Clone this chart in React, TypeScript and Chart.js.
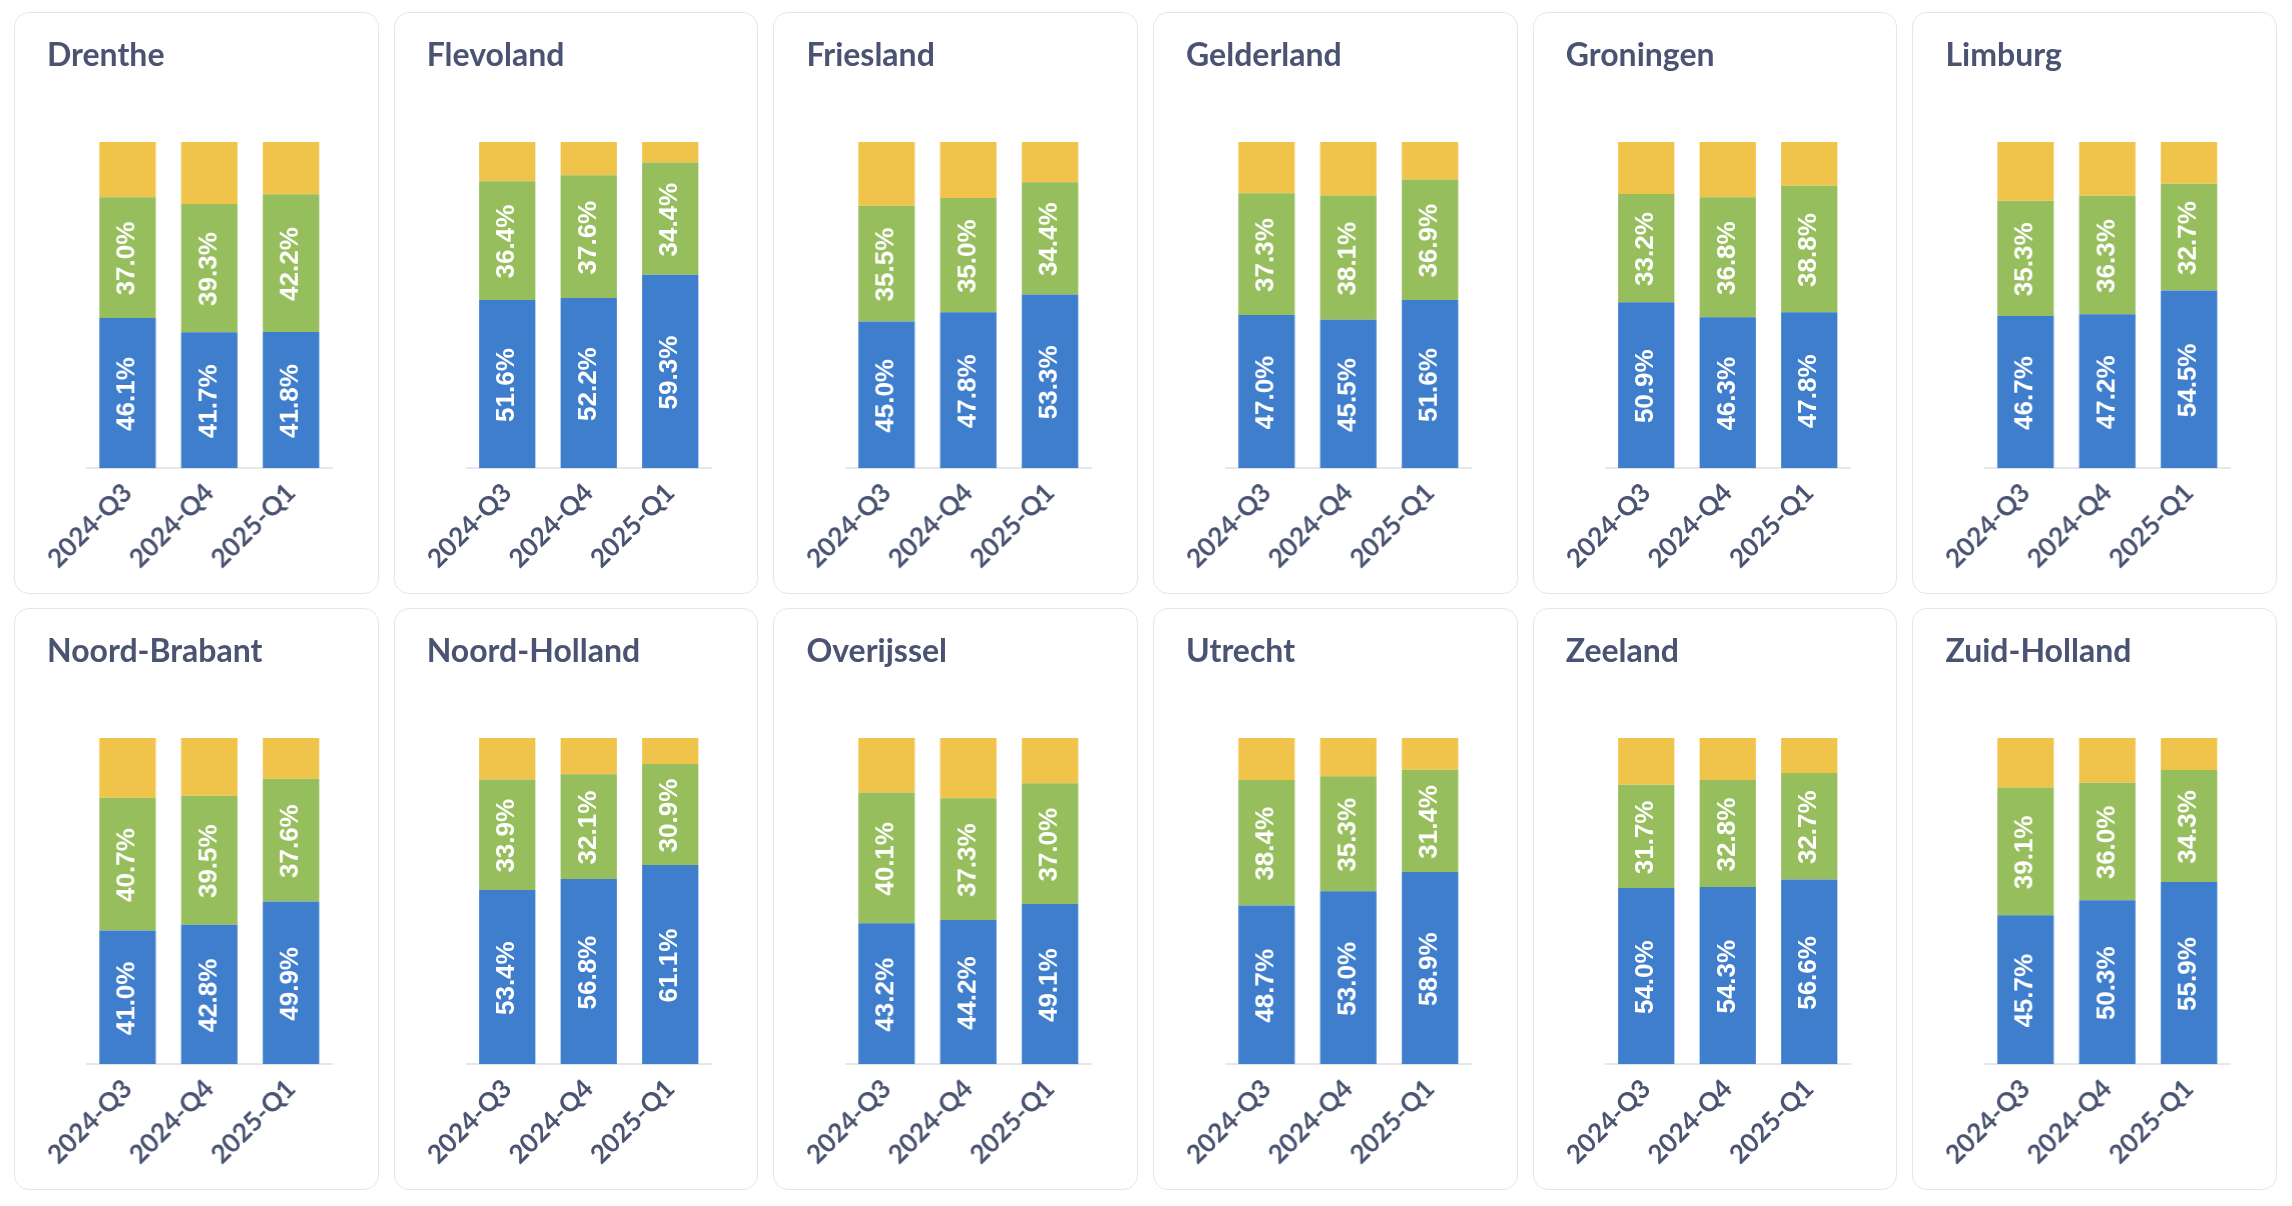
import { useEffect, useRef } from "react";
import { Chart, registerables, Plugin } from "chart.js";

Chart.register(...registerables);

const provinces = [
  "Drenthe",
  "Flevoland",
  "Friesland",
  "Gelderland",
  "Groningen",
  "Limburg",
  "Noord-Brabant",
  "Noord-Holland",
  "Overijssel",
  "Utrecht",
  "Zeeland",
  "Zuid-Holland",
];

const quarters = ["2024-Q3", "2024-Q4", "2025-Q1"];

// blue segment (bottom), per province, per quarter
const blueShare = [
  [46.1, 41.7, 41.8],
  [51.6, 52.2, 59.3],
  [45.0, 47.8, 53.3],
  [47.0, 45.5, 51.6],
  [50.9, 46.3, 47.8],
  [46.7, 47.2, 54.5],
  [41.0, 42.8, 49.9],
  [53.4, 56.8, 61.1],
  [43.2, 44.2, 49.1],
  [48.7, 53.0, 58.9],
  [54.0, 54.3, 56.6],
  [45.7, 50.3, 55.9],
];

// green segment (middle)
const greenShare = [
  [37.0, 39.3, 42.2],
  [36.4, 37.6, 34.4],
  [35.5, 35.0, 34.4],
  [37.3, 38.1, 36.9],
  [33.2, 36.8, 38.8],
  [35.3, 36.3, 32.7],
  [40.7, 39.5, 37.6],
  [33.9, 32.1, 30.9],
  [40.1, 37.3, 37.0],
  [38.4, 35.3, 31.4],
  [31.7, 32.8, 32.7],
  [39.1, 36.0, 34.3],
];

// yellow segment (top), no labels shown
const yellowShare = [
  [16.9, 19.0, 16.0],
  [12.0, 10.2, 6.3],
  [19.5, 17.2, 12.3],
  [15.7, 16.4, 11.5],
  [15.9, 16.9, 13.4],
  [18.0, 16.5, 12.8],
  [18.3, 17.7, 12.5],
  [12.7, 11.1, 8.0],
  [16.7, 18.5, 13.9],
  [12.9, 11.7, 9.7],
  [14.3, 12.9, 10.7],
  [15.2, 13.7, 9.8],
];

const BLUE = "#3f7ecd";
const GREEN = "#97be5c";
const YELLOW = "#f0c44b";
const TEXT = "#4a5472";

// draws the rotated white percentages inside the blue and green segments
const barLabels: Plugin<"bar"> = {
  id: "barLabels",
  afterDatasetsDraw(chart) {
    const ctx = chart.ctx;
    ctx.save();
    ctx.fillStyle = "#ffffff";
    ctx.font = "bold 26px 'Liberation Sans', Arial, sans-serif";
    ctx.textAlign = "center";
    ctx.textBaseline = "middle";
    [0, 1].forEach((di) => {
      const meta = chart.getDatasetMeta(di);
      meta.data.forEach((el: any, i) => {
        const v = chart.data.datasets[di].data[i] as number;
        const cy = (el.y + el.base) / 2;
        ctx.save();
        ctx.translate(el.x, cy + 1);
        ctx.rotate(-Math.PI / 2);
        ctx.fillText(v.toFixed(1) + "%", 0, 0);
        ctx.restore();
      });
    });
    ctx.restore();
  },
};

function Panel({ index }: { index: number }) {
  const chartRef = useRef<HTMLCanvasElement>(null);
  const chartInstance = useRef<Chart | null>(null);

  useEffect(() => {
    if (!chartRef.current) return;
    if (chartInstance.current) chartInstance.current.destroy();
    const ctx = chartRef.current.getContext("2d");
    if (!ctx) return;

    chartInstance.current = new Chart(ctx, {
      type: "bar",
      data: {
        labels: quarters,
        datasets: [
          { label: "blue", data: blueShare[index], backgroundColor: BLUE },
          { label: "green", data: greenShare[index], backgroundColor: GREEN },
          { label: "yellow", data: yellowShare[index], backgroundColor: YELLOW },
        ],
      },
      options: {
        responsive: true,
        maintainAspectRatio: false,
        animation: false,
        datasets: {
          bar: {
            categoryPercentage: 0.8,
            barPercentage: 0.8625,
            borderWidth: 0,
          },
        },
        layout: {
          padding: { left: 71.5, right: 46.5, top: 129, bottom: 0 },
        },
        scales: {
          x: {
            stacked: true,
            grid: { display: false, drawTicks: false },
            border: { display: true, color: "#e6e7ea", width: 2 },
            ticks: {
              color: TEXT,
              font: { family: "Lato", weight: "bold", size: 26 },
              minRotation: 45,
              maxRotation: 45,
              padding: 9,
            },
            afterFit: (scale) => {
              scale.height = 124.7;
            },
          },
          y: {
            stacked: true,
            display: false,
            min: 0,
            max: 100,
          },
        },
        plugins: {
          legend: { display: false },
          tooltip: { enabled: false },
        },
      },
      plugins: [barLabels],
    });

    return () => {
      if (chartInstance.current) {
        chartInstance.current.destroy();
        chartInstance.current = null;
      }
    };
  }, [index]);

  return (
    <div
      style={{
        position: "relative",
        boxSizing: "border-box",
        border: "1.5px solid #e4e6ea",
        borderRadius: 15,
        background: "#fff",
        overflow: "hidden",
      }}
    >
      <div style={{ position: "absolute", left: 0, top: 0, width: "100%", height: "100%" }}>
        <canvas ref={chartRef} />
      </div>
      <div
        style={{
          position: "absolute",
          left: 32,
          top: 25.4,
          fontFamily: "Lato, sans-serif",
          fontWeight: 700,
          fontSize: 32,
          lineHeight: "32px",
          color: TEXT,
          whiteSpace: "nowrap",
        }}
      >
        {provinces[index]}
      </div>
    </div>
  );
}

export default function App() {
  return (
    <div style={{ padding: "4px 6px 0 6px" }}>
      <div
        style={{
          display: "grid",
          gridTemplateColumns: "repeat(6, 364.5px)",
          gridAutoRows: "582px",
          columnGap: 15.2,
          rowGap: 14,
        }}
      >
        {provinces.map((p, i) => (
          <Panel key={p} index={i} />
        ))}
      </div>
    </div>
  );
}
